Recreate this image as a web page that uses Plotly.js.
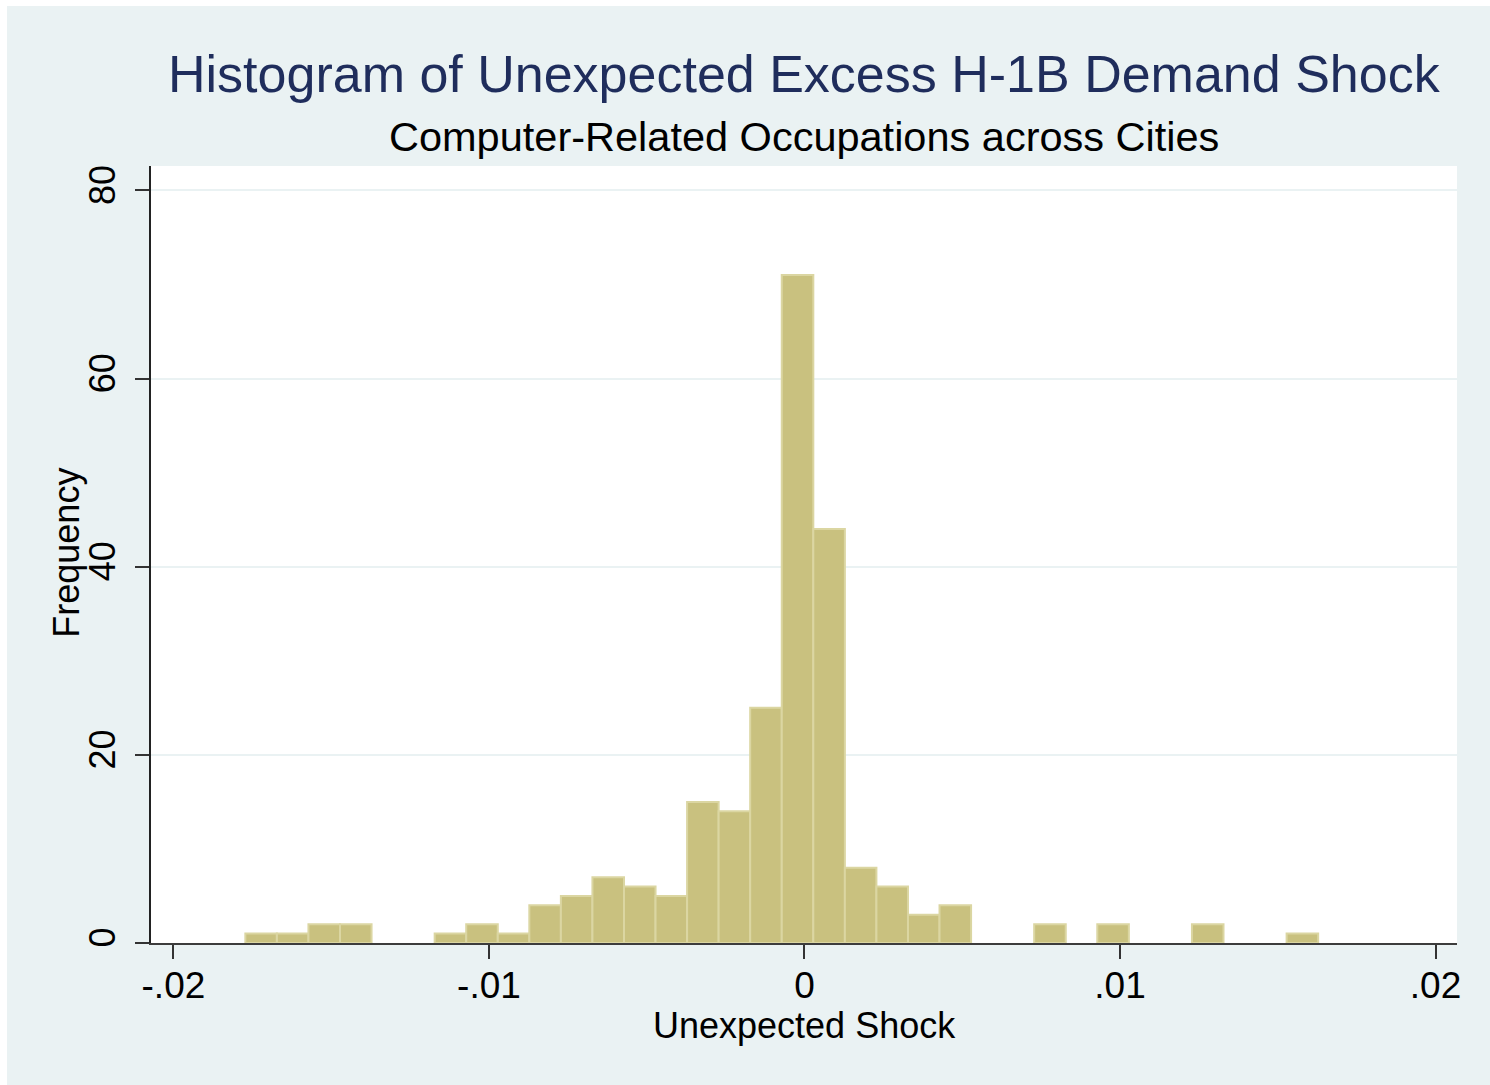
<!DOCTYPE html>
<html>
<head>
<meta charset="utf-8">
<script src="https://cdn.plot.ly/plotly-3.0.1.min.js"></script>
<style>
  html, body { margin: 0; padding: 0; background: #ffffff; width: 1490px; height: 1085px; overflow: hidden; }
  #chart { position: absolute; left: 7px; top: 6px; width: 1483px; height: 1079px; }
</style>
</head>
<body>
<div id="chart"></div>
<script>
// ---- Data ----
var binStart = -0.01772;   // left edge of first bin
var binWidth = 0.001;      // bin width
var counts = [1, 1, 2, 2, 0, 0, 1, 2, 1, 4, 5, 7, 6, 5, 15, 14, 25, 71, 44, 8, 6, 3, 4, 0, 0, 2, 0, 2, 0, 0, 2, 0, 0, 1];

var xTickVals = [-0.02, -0.01, 0, 0.01, 0.02];
var xTickText = ['-.02', '-.01', '0', '.01', '.02'];
var yTickVals = [0, 20, 40, 60, 80];
var yTickText = ['0', '20', '40', '60', '80'];

var titleText = 'Histogram of Unexpected Excess H-1B Demand Shock';
var subtitleText = 'Computer-Related Occupations across Cities';
var xTitleText = 'Unexpected Shock';
var yTitleText = 'Frequency';

// ---- Build bar trace from bins ----
var centers = counts.map(function (c, i) { return binStart + (i + 0.5) * binWidth; });
var heights = counts.map(function (c) { return c > 0 ? c : null; });

var FONT = 'Arial, "Liberation Sans", sans-serif';
var BG = '#eaf2f3';

var trace = {
  type: 'bar',
  x: centers,
  y: heights,
  width: binWidth,
  marker: {
    color: '#c9c17f',
    line: { color: '#dbd6a2', width: 2 }
  },
  hoverinfo: 'x+y',
  showlegend: false
};

var layout = {
  width: 1483,
  height: 1079,
  paper_bgcolor: BG,
  plot_bgcolor: '#ffffff',
  margin: { l: 144, r: 33, t: 160, b: 142, pad: 0 },
  font: { family: FONT, color: '#000000' },
  bargap: 0,
  showlegend: false,
  xaxis: {
    range: [-0.02071, 0.02068],
    tickmode: 'array',
    tickvals: xTickVals,
    ticktext: xTickText,
    ticks: 'outside',
    ticklen: 14,
    tickwidth: 2,
    tickcolor: '#333333',
    tickfont: { family: FONT, size: 37, color: '#000000' },
    ticklabelstandoff: -5,
    showline: true,
    linecolor: '#3c3c3c',
    linewidth: 2,
    showgrid: false,
    zeroline: false,
    automargin: false
  },
  yaxis: {
    range: [0, 82.6],
    tickmode: 'array',
    tickvals: yTickVals,
    ticktext: yTickText,
    tickangle: -90,
    ticks: 'outside',
    ticklen: 14,
    tickwidth: 2,
    tickcolor: '#333333',
    tickfont: { family: FONT, size: 36, color: '#000000' },
    ticklabelstandoff: 6,
    showline: true,
    linecolor: '#222222',
    linewidth: 2,
    showgrid: true,
    gridcolor: '#eaf2f3',
    gridwidth: 2,
    zeroline: false,
    automargin: false
  },
  annotations: [
    { text: titleText, xref: 'paper', yref: 'paper', x: 0.5, y: 1.1184, xanchor: 'center', yanchor: 'middle',
      showarrow: false, font: { family: FONT, size: 52, color: '#1f2d5c' } },
    { text: subtitleText, xref: 'paper', yref: 'paper', x: 0.5, y: 1.0386, xanchor: 'center', yanchor: 'middle',
      showarrow: false, font: { family: FONT, size: 41.5, color: '#000000' } },
    { text: xTitleText, xref: 'paper', yref: 'paper', x: 0.5, y: -0.1060, xanchor: 'center', yanchor: 'middle',
      showarrow: false, font: { family: FONT, size: 36, color: '#000000' } },
    { text: yTitleText, xref: 'paper', yref: 'paper', x: -0.0645, y: 0.502, xanchor: 'center', yanchor: 'middle',
      textangle: -90, showarrow: false, font: { family: FONT, size: 36, color: '#000000' } }
  ]
};

Plotly.newPlot('chart', [trace], layout, { displayModeBar: false, staticPlot: true });
</script>
</body>
</html>
